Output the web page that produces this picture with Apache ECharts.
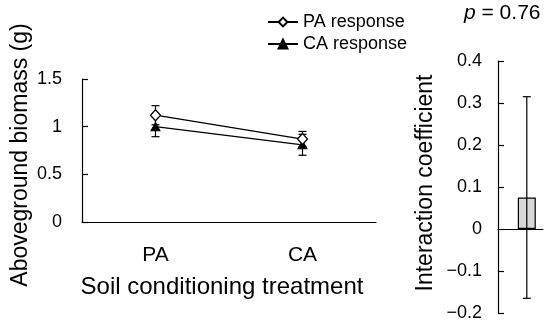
<!DOCTYPE html>
<html><head><meta charset="utf-8">
<script src="https://cdn.jsdelivr.net/npm/echarts@6/dist/echarts.min.js"></script>
<style>html,body{margin:0;padding:0;background:#fff}#c{width:550px;height:327px}</style>
</head><body><div id="c"></div>
<script>
// ---- data ----
const categories = ['PA', 'CA'];
const paResponse = [1.12, 0.87];
const paError = [0.10, 0.08];
const caResponse = [1.00, 0.81];
const caError = [0.105, 0.11];
const leftTicks = [0, 0.5, 1, 1.5];
const interactionValue = [0.075];
const interactionError = [0.24];
const rightTicks = [-0.2, -0.1, 0, 0.1, 0.2, 0.3, 0.4];
const pText = '0.76';

const FONT = 'Liberation Sans';
const chart = echarts.init(document.getElementById('c'));

function errData(vals, errs) {
  return vals.map((v, i) => [i, v - errs[i], v + errs[i]]);
}
function errRender(cap) {
  return function (params, api) {
    const x = api.value(0);
    const lo = api.coord([x, api.value(1)]);
    const hi = api.coord([x, api.value(2)]);
    const st = { stroke: '#000', lineWidth: 1.2 };
    return { type: 'group', children: [
      { type: 'line', shape: { x1: lo[0], y1: lo[1], x2: hi[0], y2: hi[1] }, style: st },
      { type: 'line', shape: { x1: lo[0] - cap, y1: lo[1], x2: lo[0] + cap, y2: lo[1] }, style: st },
      { type: 'line', shape: { x1: hi[0] - cap, y1: hi[1], x2: hi[0] + cap, y2: hi[1] }, style: st }
    ]};
  };
}
const barX = 0.64;

chart.setOption({
  animation: false,
  textStyle: { fontFamily: FONT, color: '#000' },
  title: {
    text: '{i|p} = ' + pText, left: 464, top: 3, padding: 0,
    textStyle: { fontFamily: FONT, fontSize: 21, fontWeight: 'normal', color: '#000',
      rich: { i: { fontFamily: FONT, fontSize: 21, fontStyle: 'italic', color: '#000' } } }
  },
  legend: {
    orient: 'vertical', left: 267, top: 13, padding: 0, itemGap: 4, itemWidth: 30, itemHeight: 11,
    data: ['PA response', 'CA response'],
    textStyle: { fontFamily: FONT, fontSize: 18, color: '#000' }
  },
  grid: [
    { left: 82, top: 79, width: 294, height: 143, containLabel: false, outerBoundsMode: 'none' },
    { left: 498, top: 61, width: 45, height: 252, containLabel: false, outerBoundsMode: 'none' }
  ],
  xAxis: [
    { gridIndex: 0, type: 'category', data: categories,
      axisLine: { lineStyle: { color: '#000', width: 1.2 } }, axisTick: { show: false },
      axisLabel: { color: '#000', fontSize: 21, fontFamily: FONT, margin: 23 },
      name: 'Soil conditioning treatment', nameLocation: 'middle', nameGap: 53, nameMoveOverlap: false,
      nameTextStyle: { color: '#000', fontSize: 24, fontFamily: FONT, padding: [0, 14, 0, 0] } },
    { gridIndex: 1, type: 'value', min: 0, max: 1, show: true,
      axisLine: { show: true, onZero: true, lineStyle: { color: '#000', width: 1.2 } },
      axisTick: { show: false }, axisLabel: { show: false }, splitLine: { show: false } }
  ],
  yAxis: [
    { gridIndex: 0, type: 'value', min: 0, max: 1.5, interval: 0.5,
      axisLine: { show: true, lineStyle: { color: '#000', width: 1.2 } },
      axisTick: { show: true, inside: true, length: 6, lineStyle: { color: '#000', width: 1.2 } },
      axisLabel: { color: '#000', fontSize: 18, fontFamily: FONT, margin: 20 },
      splitLine: { show: false },
      name: 'Aboveground biomass (g)', nameLocation: 'middle', nameGap: 50, nameMoveOverlap: false,
      nameTextStyle: { color: '#000', fontSize: 23, fontFamily: FONT, padding: [0, 9, 0, 0] } },
    { gridIndex: 1, type: 'value', min: -0.2, max: 0.4, interval: 0.1,
      axisLine: { show: true, lineStyle: { color: '#000', width: 1.2 } },
      axisTick: { show: true, inside: true, length: 6, lineStyle: { color: '#000', width: 1.2 } },
      axisLabel: { color: '#000', fontSize: 18, fontFamily: FONT, margin: 16,
        formatter: v => Math.abs(v) < 1e-9 ? '0' : (v < 0 ? '\u2212' : '') + Math.abs(v).toFixed(1) },
      splitLine: { show: false },
      name: 'Interaction coefficient', nameLocation: 'middle', nameGap: 61, nameMoveOverlap: false,
      nameTextStyle: { color: '#000', fontSize: 23, fontFamily: FONT, padding: [0, 0, 0, 8] } }
  ],
  series: [
    { type: 'custom', xAxisIndex: 0, yAxisIndex: 0, renderItem: errRender(4), data: errData(paResponse, paError), z: 1, silent: true },
    { type: 'custom', xAxisIndex: 0, yAxisIndex: 0, renderItem: errRender(4), data: errData(caResponse, caError), z: 1, silent: true },
    { name: 'PA response', type: 'line', xAxisIndex: 0, yAxisIndex: 0, data: paResponse,
      symbol: 'diamond', symbolSize: [10, 11], z: 5,
      lineStyle: { color: '#000', width: 1.3 },
      itemStyle: { color: '#fff', borderColor: '#000', borderWidth: 1.3 } },
    { name: 'CA response', type: 'line', xAxisIndex: 0, yAxisIndex: 0, data: caResponse,
      symbol: 'triangle', symbolSize: [9, 8], z: 4,
      lineStyle: { color: '#000', width: 1.3 },
      itemStyle: { color: '#000', borderColor: '#000', borderWidth: 1 } },
    { type: 'bar', xAxisIndex: 1, yAxisIndex: 1, barWidth: 18, z: 2,
      data: interactionValue.map(v => [barX, v]),
      itemStyle: { color: '#d9d9d9', borderColor: '#000', borderWidth: 1.2 } },
    { type: 'custom', xAxisIndex: 1, yAxisIndex: 1, z: 3, silent: true, renderItem: errRender(4),
      data: interactionValue.map((v, i) => [barX, v - interactionError[i], v + interactionError[i]]) }
  ]
});
</script></body></html>
